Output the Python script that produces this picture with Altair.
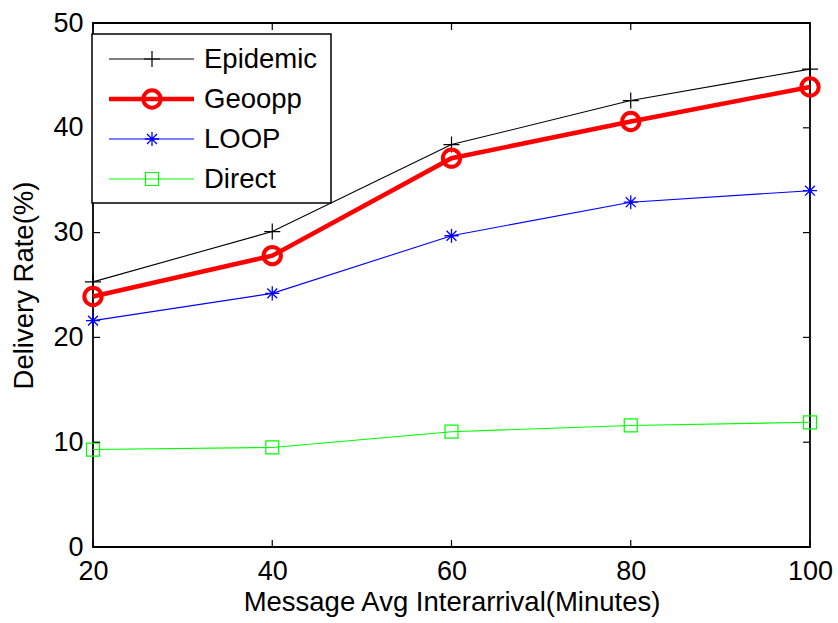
import altair as alt
import pandas as pd

# ---- data ----
x_vals = [20, 40, 60, 80, 100]
epidemic = [25.3, 30.1, 38.4, 42.6, 45.6]
geoopp = [23.9, 27.8, 37.1, 40.6, 43.9]
loop = [21.6, 24.2, 29.7, 32.9, 34.0]
direct = [9.3, 9.5, 11.0, 11.6, 11.9]
series_names = ["Epidemic", "Geoopp", "LOOP", "Direct"]
y_ticks = [0, 10, 20, 30, 40, 50]
x_ticks = [20, 40, 60, 80, 100]

# ---- styles ----
colors = ["#000000", "#FF0000", "#0000FF", "#00FF00"]
line_widths = [1.1, 4.5, 1.1, 1.1]
plus_path = "M-1,0L1,0M0,-1L0,1"
star_path = "M-1,0L1,0M0,-1L0,1M-0.7,-0.7L0.7,0.7M-0.7,0.7L0.7,-0.7"
shapes = [plus_path, "circle", star_path, "square"]
sizes = [256, 300, 200, 169]
marker_widths = [1.2, 4, 1.3, 1.2]

W, H = 717, 524
FONT = "Liberation Sans"
FS = 27.5
FS_TICK = 27

xs = alt.Scale(domain=[20, 100], nice=False, zero=False)
ys = alt.Scale(domain=[0, 50], nice=False)

values = [epidemic, geoopp, loop, direct]
layers = []
for i, name in enumerate(series_names):
    df = pd.DataFrame({"x": x_vals, "y": values[i], "series": name})
    base = alt.Chart(df)
    line = base.mark_line(color=colors[i], strokeWidth=line_widths[i]).encode(
        x=alt.X("x:Q", scale=xs,
                axis=alt.Axis(values=x_ticks, title="Message Avg Interarrival(Minutes)",
                              labelFlush=False, labelOverlap=False)),
        y=alt.Y("y:Q", scale=ys,
                axis=alt.Axis(values=y_ticks, title="Delivery Rate(%)",
                              labelFlush=False, labelOverlap=False)),
    )
    pts = base.mark_point(shape=shapes[i], size=sizes[i], color=colors[i],
                          strokeWidth=marker_widths[i], filled=False, opacity=1).encode(
        x=alt.X("x:Q", scale=xs), y=alt.Y("y:Q", scale=ys)
    )
    layers += [line, pts]

# inward ticks (MATLAB style)
xt = alt.Chart(pd.DataFrame({"t": x_ticks}))
yt = alt.Chart(pd.DataFrame({"t": y_ticks}))
TL = 7
tick_style = dict(color="black", strokeWidth=1.2)
layers += [
    xt.mark_rule(**tick_style).encode(x=alt.X("t:Q", scale=xs), y=alt.value(H), y2=alt.value(H - TL)),
    xt.mark_rule(**tick_style).encode(x=alt.X("t:Q", scale=xs), y=alt.value(0), y2=alt.value(TL)),
    yt.mark_rule(**tick_style).encode(y=alt.Y("t:Q", scale=ys), x=alt.value(0), x2=alt.value(TL)),
    yt.mark_rule(**tick_style).encode(y=alt.Y("t:Q", scale=ys), x=alt.value(W), x2=alt.value(W - TL)),
]

# legend box
box = alt.Chart(pd.DataFrame({"k": [0]})).mark_rect(
    fill="white", stroke="black", strokeWidth=1.5
).encode(x=alt.value(-1), x2=alt.value(238), y=alt.value(11), y2=alt.value(180))
layers.append(box)

for i, name in enumerate(series_names):
    ly = 36 + 40 * i
    ld = alt.Chart(pd.DataFrame({"s": [name]}))
    layers.append(ld.mark_rule(color=colors[i], strokeWidth=line_widths[i]).encode(
        x=alt.value(16), x2=alt.value(101), y=alt.value(ly)))
    layers.append(ld.mark_point(shape=shapes[i], size=sizes[i], color=colors[i],
                                strokeWidth=marker_widths[i], filled=False, opacity=1).encode(
        x=alt.value(59), y=alt.value(ly)))
    layers.append(ld.mark_text(align="left", baseline="middle", font=FONT, fontSize=FS,
                               color="black").encode(
        x=alt.value(111), y=alt.value(ly + 1), text="s:N"))

chart = alt.layer(*layers).properties(
    width=W, height=H,
    autosize=alt.AutoSizeParams(type="none"),
    padding={"left": 93, "top": 23, "right": 28, "bottom": 76},
    background="white",
).configure_view(
    stroke="black", strokeWidth=1.8
).configure_axis(
    domain=False, ticks=False, grid=False,
    labelFont=FONT, labelFontSize=FS_TICK, labelColor="black",
    titleFont=FONT, titleFontSize=FS, titleFontWeight="normal", titleColor="black",
).configure_axisX(
    labelPadding=11, titlePadding=4
).configure_axisY(
    labelPadding=10, titlePadding=14
)

chart.save("out.html", embed_options={"renderer": "svg", "actions": False})
